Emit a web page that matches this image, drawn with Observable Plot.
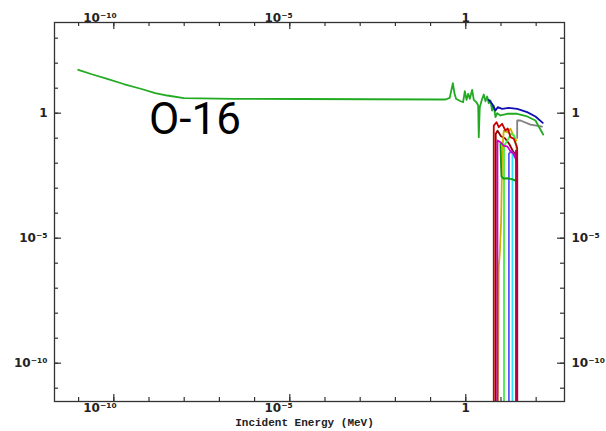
<!DOCTYPE html>
<html><head><meta charset="utf-8">
<script src="https://cdn.jsdelivr.net/npm/d3@7"></script>
<script src="https://cdn.jsdelivr.net/npm/@observablehq/plot@0.6"></script>
<style>html,body{margin:0;padding:0;background:#fff;} #chart svg{display:block;}</style>
</head><body><div id="chart"></div>
<script>
// ---- data (energies in MeV, cross sections) ; 1e-14 = below the axis floor ----
const greenE  = [9.8e-12, 2.5e-11, 6.5e-11, 1.9e-10, 5.8e-10, 1.5e-9, 3.3e-9, 9.8e-9, 2.6e-7, 2e-5, 0.19, 0.265, 0.35, 0.43, 0.48, 0.53, 0.71, 0.84, 0.94, 1.05, 1.17, 1.3, 1.52, 1.69, 2.01, 2.25, 2.34, 2.5, 2.85, 3.25, 3.63, 4.05, 4.5, 5.03, 5.6, 6.24, 6.98, 7.8, 9.7, 15, 28.9, 55.5, 95.5, 158];
const greenXS = [54.5, 35.3, 23.8, 14.7, 9.5, 6.4, 5.1, 4.0, 3.77, 3.7, 3.53, 3.53, 4.13, 15.8, 5.97, 3.77, 3.0, 2.75, 7.6, 3.4, 6.0, 3.77, 8.6, 3.4, 2.75, 2.03, 0.11, 1.74, 3.4, 5.6, 3.0, 4.66, 2.5, 3.22, 1.28, 2.03, 0.69, 1.0, 0.81, 0.95, 0.95, 0.74, 0.51, 0.14];
const blueE   = [4.5, 5.6, 6.98, 8.1, 10.8, 16.6, 28.9, 55.5, 95.5, 154];
const blueXS  = [3.4, 2.38, 1.28, 1.74, 1.5, 1.64, 1.5, 1.1, 0.74, 0.41];
const grayE   = [28.9, 28.9, 35.9, 68.9, 147];
const grayXS  = [0.104, 0.51, 0.51, 0.35, 0.29];
const redE    = [6.24, 6.24, 7.45, 8.66, 10.8, 13.4, 15.6, 18.6, 23.1, 27.6, 28.9, 28.9];
const redXS   = [1e-14, 0.32, 0.436, 0.275, 0.377, 0.2, 0.244, 0.11, 0.095, 0.051, 0.04, 1e-14];
const darkRedE  = [7.1, 7.1, 8.0, 10, 13, 17, 22, 28];
const darkRedXS = [1e-14, 0.15, 0.2, 0.12, 0.1, 0.06, 0.03, 0.02];
const magentaE  = [7.95, 7.95, 9.7, 11.8, 15.3, 18.6, 22.6, 27.6, 28.9, 28.9];
const magentaXS = [1e-14, 0.081, 0.069, 0.051, 0.046, 0.03, 0.024, 0.0128, 0.01, 1e-14];
const yellowE   = [8.0, 8.66, 9.25, 10.1, 10.8, 12, 15.3, 18.6, 22.6, 27.6];
const yellowXS  = [1e-14, 6.9e-7, 2.4e-6, 5.1e-5, 0.024, 0.2, 0.17, 0.24, 0.128, 0.081];
const dkGreenE  = [9.7, 10.0, 10.3, 11.8, 15, 22.6, 28.9];
const dkGreenXS = [0.06, 0.01, 0.003, 0.0024, 0.0025, 0.0022, 0.0018];
const limeE     = [12.2, 12.2, 15.3, 19.5, 23.7, 28.4];
const limeXS    = [1e-14, 0.05, 0.081, 0.154, 0.128, 0.032];
const violetE   = [16.8, 16.8, 20, 25, 28.9];
const violetXS  = [1e-14, 0.024, 0.03, 0.02, 0.012];
const cyanE     = [21.2, 21.2, 25, 28.9];
const cyanXS    = [1e-14, 0.024, 0.018, 0.012];
const purpleE   = [26.7, 26.7, 28.9];
const purpleXS  = [1e-14, 0.032, 0.02];

// ---- ticks / labels ----
const xDecades = [1e-11, 1e-10, 1e-9, 1e-8, 1e-7, 1e-6, 1e-5, 1e-4, 1e-3, 1e-2, 1e-1, 1, 10, 100];
const xMajor = [1e-10, 1e-5, 1];
const xPowLabelVals = [1e-10, 1e-5];
const xPowLabels = ["10\u207B\u00B9\u2070", "10\u207B\u2075"];
const yDecades = [1e-11, 1e-10, 1e-9, 1e-8, 1e-7, 1e-6, 1e-5, 1e-4, 1e-3, 1e-2, 1e-1, 1, 10, 100, 1000];
const yMajor = [1e-10, 1e-5, 1];
const yLabels = ["10\u207B\u00B9\u2070", "10\u207B\u2075", "1"];

const series = [
  {E: darkRedE, XS: darkRedXS, c: "#980000"},
  {E: yellowE, XS: yellowXS, c: "#c8b400"},
  {E: limeE, XS: limeXS, c: "#44ee44"},
  {E: violetE, XS: violetXS, c: "#5a5aff"},
  {E: cyanE, XS: cyanXS, c: "#30e0ff"},
  {E: dkGreenE, XS: dkGreenXS, c: "#0a9a0a"},
  {E: magentaE, XS: magentaXS, c: "#cc00cc"},
  {E: purpleE, XS: purpleXS, c: "#8a00c8"},
  {E: redE, XS: redXS, c: "#c80000"},
  {E: grayE, XS: grayXS, c: "#808080"},
  {E: greenE, XS: greenXS, c: "#22aa22"},
  {E: blueE, XS: blueXS, c: "#1010b0"}
];

const W = 606, H = 431, mL = 54, mR = 42, mT = 22, mB = 30;
const iW = W - mL - mR, iH = H - mT - mB;
const axisColor = "#333";
const lblFont = {fontFamily: "DejaVu Sans", fontWeight: "bold", fontSize: 12, fill: "#222"};

const marks = [];
for (const s of series) {
  const rows = s.E.map((e, i) => ({E: e, XS: s.XS[i]}));
  marks.push(Plot.line(rows, {x: "E", y: "XS", stroke: s.c, strokeWidth: 1.8, clip: true}));
}
marks.push(
  Plot.frame({stroke: axisColor, strokeWidth: 1.3}),
  // x ticks (inside), bottom and top
  Plot.tickX(xDecades, {x: d => d, insetTop: iH - 4, stroke: axisColor, strokeWidth: 1.2}),
  Plot.tickX(xMajor, {x: d => d, insetTop: iH - 7, stroke: axisColor, strokeWidth: 1.2}),
  Plot.tickX(xDecades, {x: d => d, insetBottom: iH - 4, stroke: axisColor, strokeWidth: 1.2}),
  Plot.tickX(xMajor, {x: d => d, insetBottom: iH - 7, stroke: axisColor, strokeWidth: 1.2}),
  // y ticks (inside), left and right
  Plot.tickY(yDecades, {y: d => d, insetRight: iW - 4, stroke: axisColor, strokeWidth: 1.2}),
  Plot.tickY(yMajor, {y: d => d, insetRight: iW - 7, stroke: axisColor, strokeWidth: 1.2}),
  Plot.tickY(yDecades, {y: d => d, insetLeft: iW - 4, stroke: axisColor, strokeWidth: 1.2}),
  Plot.tickY(yMajor, {y: d => d, insetLeft: iW - 7, stroke: axisColor, strokeWidth: 1.2}),
  // x labels
  Plot.text(xPowLabelVals, {x: d => d, text: (d, i) => xPowLabels[i], frameAnchor: "bottom", dy: 10, dx: 3, textAnchor: "end", ...lblFont}),
  Plot.text([1], {x: d => d, text: () => "1", frameAnchor: "bottom", dy: 10, ...lblFont}),
  Plot.text(xPowLabelVals, {x: d => d, text: (d, i) => xPowLabels[i], frameAnchor: "top", dy: -9, dx: 3, textAnchor: "end", ...lblFont}),
  Plot.text([1], {x: d => d, text: () => "1", frameAnchor: "top", dy: -9, ...lblFont}),
  // y labels
  Plot.text(yMajor, {y: d => d, text: (d, i) => yLabels[i], frameAnchor: "left", dx: -7, textAnchor: "end", ...lblFont}),
  Plot.text(yMajor, {y: d => d, text: (d, i) => yLabels[i], frameAnchor: "right", dx: 7, textAnchor: "start", ...lblFont}),
  // axis title
  Plot.text(["Incident Energy (MeV)"], {text: d => d, frameAnchor: "bottom", dy: 24, dx: -5, fontFamily: "Liberation Mono", fontWeight: "bold", fontSize: 11, fill: "#222"}),
  // annotation
  Plot.text(["O-16"], {x: () => 1e-9, y: () => 0.56, text: d => d, textAnchor: "start", fontFamily: "Roboto", fontSize: 44, fill: "#000"})
);

const chart = Plot.plot({
  width: W, height: H,
  marginLeft: mL, marginRight: mR, marginTop: mT, marginBottom: mB,
  x: {type: "log", domain: [Math.pow(10, -11.685), Math.pow(10, 2.805)], axis: null},
  y: {type: "log", domain: [Math.pow(10, -11.532), Math.pow(10, 3.628)], axis: null},
  style: {background: "#fff", overflow: "hidden"},
  marks
});
document.getElementById("chart").appendChild(chart);
</script>
</body></html>
